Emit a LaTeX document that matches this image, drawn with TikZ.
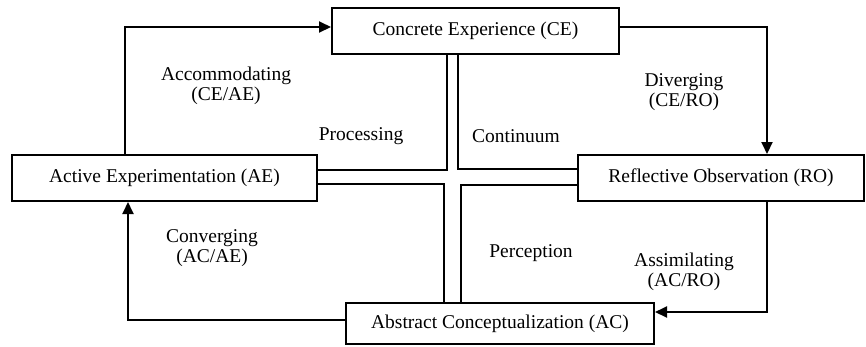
\documentclass[tikz,border=0pt]{standalone}
\usepackage{fontspec}
\setmainfont{Liberation Serif}
\usetikzlibrary{arrows.meta}

\begin{document}
\begin{tikzpicture}[
		x=1pt, y=-1pt,
		stage/.style={rectangle, draw=black, line width=2pt, inner sep=0pt, text centered, font=\fontsize{19.5}{20.5}\selectfont},
		mode/.style={align=center, inner sep=0pt, text=black, font=\fontsize{19.5}{20.5}\selectfont},
		cycle/.style={line width=2pt, -{Triangle[length=12pt, width=11pt]}},
		bar/.style={line width=2pt}
]
\useasboundingbox (0,0) rectangle (866,346);

\node [stage, minimum width=287pt, minimum height=46pt] (CE) at (475.5,31) {Concrete Experience (CE)};
\node [stage, minimum width=305pt, minimum height=46pt] (AE) at (164.5,178) {Active Experimentation (AE)};
\node [stage, minimum width=286pt, minimum height=46pt] (RO) at (721,178) {Reflective Observation (RO)};
\node [stage, minimum width=308pt, minimum height=41pt] (AC) at (500,323.5) {Abstract Conceptualization (AC)};

\coordinate (accTurn) at (125,27);
\coordinate (divTurn) at (767,27);
\coordinate (asmTurn) at (767,312);
\coordinate (cnvTurn) at (128,320);

\draw [cycle] (AE.north -| accTurn) |- (CE.west |- accTurn);
\draw [cycle] (CE.east |- divTurn) -| (RO.north -| divTurn);
\draw [cycle] (RO.south -| asmTurn) |- (AC.east |- asmTurn);
\draw [cycle] (AC.west |- cnvTurn) -| (AE.south -| cnvTurn);

\coordinate (ulBar) at (447,170);
\coordinate (urBar) at (458,169);
\coordinate (llBar) at (444,184);
\coordinate (lrBar) at (461,185);

\draw [bar] (CE.south -| ulBar) |- (AE.east |- ulBar);
\draw [bar] (CE.south -| urBar) |- (RO.west |- urBar);
\draw [bar] (AC.north -| llBar) |- (AE.east |- llBar);
\draw [bar] (AC.north -| lrBar) |- (RO.west |- lrBar);

\node [mode] (accom) at (226,86) {Accommodating\\(CE/AE)};
\node [mode] (proc) at (361,136) {Processing};
\node [mode] (cont) at (516,136) {Continuum};
\node [mode] (diver) at (684,92) {Diverging\\(CE/RO)};
\node [mode] (conv) at (212,248) {Converging\\(AC/AE)};
\node [mode] (perc) at (531,253) {Perception};
\node [mode] (assim) at (684,272) {Assimilating\\(AC/RO)};

\end{tikzpicture}
\end{document}
